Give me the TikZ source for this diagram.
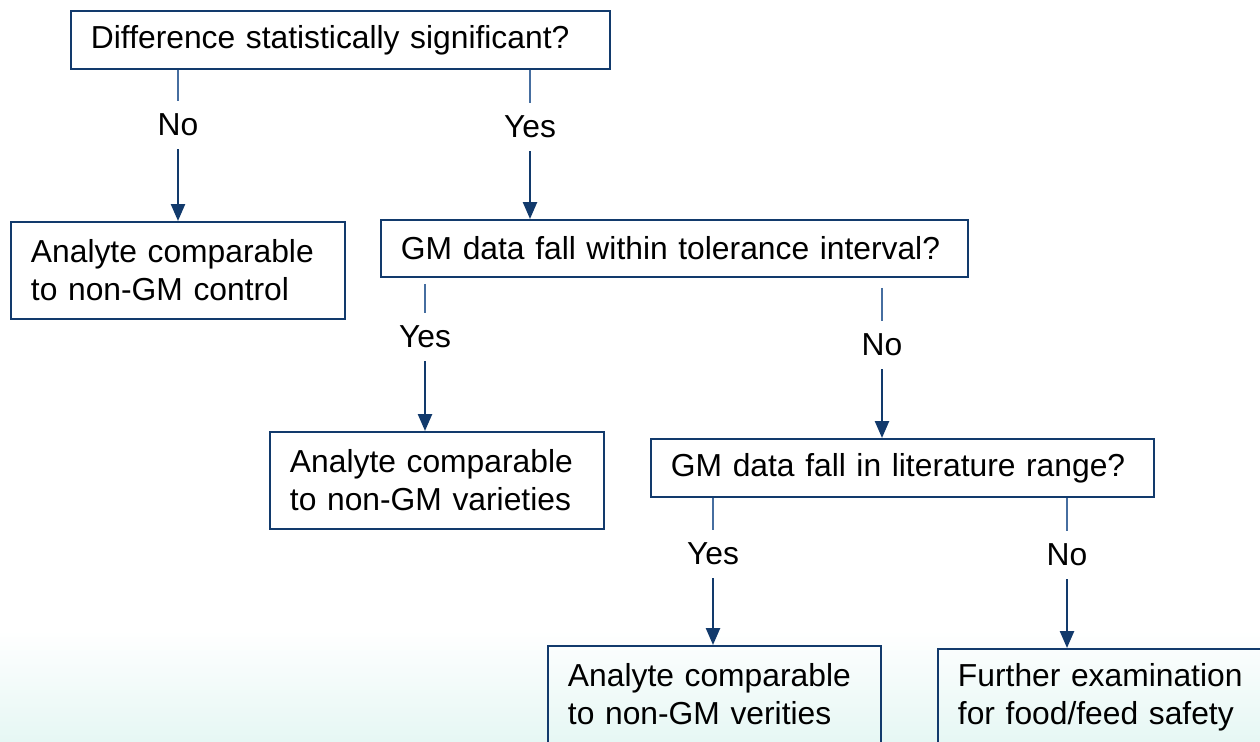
\documentclass[tikz,border=0pt]{standalone}
\usepackage{fontspec}
\setmainfont{Liberation Sans}
\usetikzlibrary{arrows.meta}
\definecolor{navy}{RGB}{18,58,108}
\definecolor{paleblue}{RGB}{70,110,160}
\definecolor{mint}{RGB}{230,247,244}
\tikzstyle{question}=[
	rectangle,
	draw=navy,
	line width=1.1pt,
	anchor=north west,
	inner xsep=0.4cm,
	inner ysep=0pt,
	minimum height=1.16cm,
	align=left,
	font=\fontsize{18.1}{21.5}\selectfont
]
\tikzstyle{outcome}=[
	question,
	minimum height=1.94cm
]
\tikzstyle{answer}=[
	inner sep=0pt,
	minimum height=0.96cm,
	font=\fontsize{18.1}{21.5}\selectfont
]
\tikzstyle{stem}=[
	draw=paleblue,
	line width=0.8pt
]
\tikzstyle{flow}=[
	draw=navy,
	line width=1.4pt,
	-{Triangle[length=0.34cm,width=0.28cm]}
]

\begin{document}
\begin{tikzpicture}[x=0.02cm,y=-0.02cm]
\useasboundingbox (0,0) rectangle (1260,741);
\clip (0,0) rectangle (1260,741);
\shade[top color=white, bottom color=mint] (0,630) rectangle (1260,741);

\node [question, text width=9.98cm] (Significant) at (70,10) {Difference statistically significant?};
\node [outcome, text width=5.88cm] (Control) at (10,221) {Analyte comparable\\to non-GM control};
\node [question, text width=10.94cm, minimum height=1.14cm] (Tolerance) at (380,219) {GM data fall within tolerance interval?};
\node [outcome, text width=5.88cm] (Varieties) at (269,431) {Analyte comparable\\to non-GM varieties};
\node [question, text width=9.26cm] (Literature) at (650,438) {GM data fall in literature range?};
\node [outcome, text width=5.86cm] (Verities) at (547,645) {Analyte comparable\\to non-GM verities};
\node [outcome, text width=6.0cm] (Further) at (937,648) {Further examination\\for food/feed safety};

\node [answer] (SigNo) at (178,125) {No};
\node [answer] (SigYes) at (530,127) {Yes};
\node [answer] (TolYes) at (425,337) {Yes};
\node [answer] (TolNo) at (882,345) {No};
\node [answer] (LitYes) at (713,554) {Yes};
\node [answer] (LitNo) at (1067,555) {No};

\draw [stem] (Significant.south -| SigNo) -- (SigNo.north);
\draw [flow] (SigNo.south) -- (Control.north -| SigNo);
\draw [stem] (Significant.south -| SigYes) -- (SigYes.north);
\draw [flow] (SigYes.south) -- (Tolerance.north -| SigYes);
\draw [stem, shorten <=0.12cm] (Tolerance.south -| TolYes) -- (TolYes.north);
\draw [flow] (TolYes.south) -- (Varieties.north -| TolYes);
\draw [stem, shorten <=0.2cm] (Tolerance.south -| TolNo) -- (TolNo.north);
\draw [flow] (TolNo.south) -- (Literature.north -| TolNo);
\draw [stem] (Literature.south -| LitYes) -- (LitYes.north);
\draw [flow] (LitYes.south) -- (Verities.north -| LitYes);
\draw [stem] (Literature.south -| LitNo) -- (LitNo.north);
\draw [flow] (LitNo.south) -- (Further.north -| LitNo);
\end{tikzpicture}
\end{document}
